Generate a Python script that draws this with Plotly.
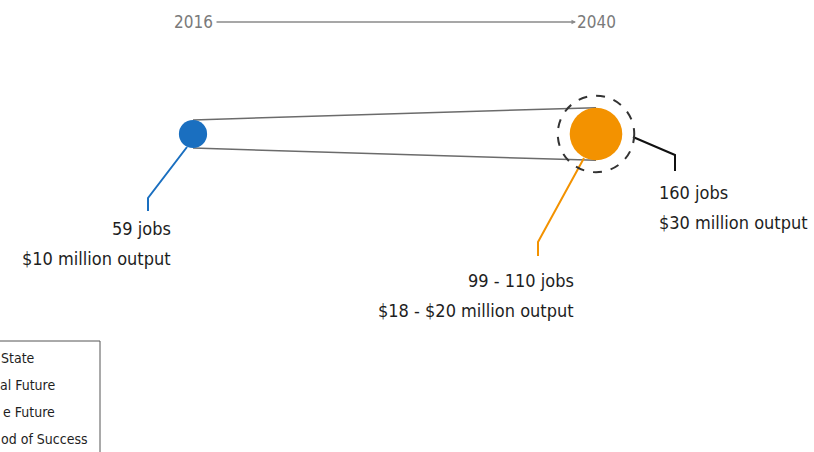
import plotly.graph_objects as go

# ---- data ----
years = [2016, 2040]
jobs_low = [59, 99]
jobs_high = [59, 110]
output_low = [10, 18]
output_high = [10, 20]
potential_year = 2040
potential_jobs = 160
potential_output = 30
series_colors = ["#1a6fc0", "#f39200"]
legend_labels = ["State", "al Future", "e Future", "od of Success"]

# ---- layout helpers (pixel frame) ----
W, H = 814, 452
X0_PX, X1_PX = 193, 596          # pixel positions of the two years
ppy = (X1_PX - X0_PX) / (years[1] - years[0])
x_range = [years[0] - X0_PX / ppy, years[0] + (W - X0_PX) / ppy]
CY = 134                          # vertical centre line of the bubbles (px from top)
K = 0.478                         # bubble diameter (px) per job

def dx(p):
    return p / ppy

FONT = "DejaVu Sans Condensed, Liberation Sans Narrow, sans-serif"
TXT = "#1e1e1e"

fig = go.Figure()

diam = [j * K for j in jobs_high]
rad = [d / 2 for d in diam]

# tangent connector lines
fig.add_trace(go.Scatter(x=years, y=[CY - rad[0], CY - rad[1]], mode="lines",
                         line=dict(color="#6b6b6b", width=1.5), hoverinfo="skip", showlegend=False))
fig.add_trace(go.Scatter(x=years, y=[CY + rad[0], CY + rad[1]], mode="lines",
                         line=dict(color="#6b6b6b", width=1.5), hoverinfo="skip", showlegend=False))

# bubbles
fig.add_trace(go.Scatter(x=years, y=[CY, CY], mode="markers",
                         marker=dict(size=diam, color=series_colors, line=dict(width=0), opacity=1),
                         hoverinfo="skip", showlegend=False))

# dashed potential circle
pr = potential_jobs * K / 2
fig.add_shape(type="circle", xref="x", yref="y",
              x0=potential_year - dx(pr), x1=potential_year + dx(pr), y0=CY - pr, y1=CY + pr,
              line=dict(color="#333333", width=2, dash="dash"))

# leader lines
def leader(pts, color):
    fig.add_trace(go.Scatter(x=[p[0] for p in pts], y=[p[1] for p in pts], mode="lines",
                             line=dict(color=color, width=2), hoverinfo="skip", showlegend=False))

bx = years[0]
leader([(bx - dx(6), CY + 13), (bx - dx(45), CY + 64), (bx - dx(45), CY + 77)], series_colors[0])
ox = years[1]
leader([(ox - dx(12), CY + 24), (ox - dx(58), CY + 108), (ox - dx(58), CY + 122)], series_colors[1])
leader([(potential_year + dx(37), CY + 3), (potential_year + dx(79), CY + 21), (potential_year + dx(79), CY + 37)], "#111111")

# labels
def label(x, y, text, anchor):
    fig.add_annotation(x=x, y=y, xref="x", yref="y", text=text, showarrow=False,
                       xanchor=anchor, yanchor="middle", align=anchor,
                       font=dict(family=FONT, size=18, color=TXT))

label(bx - dx(20), CY + 94, f"{jobs_low[0]} jobs", "right")
label(bx - dx(20), CY + 124, f"${output_low[0]} million output", "right")
label(ox - dx(20), CY + 146, f"{jobs_low[1]} - {jobs_high[1]} jobs", "right")
label(ox - dx(20), CY + 176, f"${output_low[1]} - ${output_high[1]} million output", "right")
label(potential_year + dx(61), CY + 58, f"{potential_jobs} jobs", "left")
label(potential_year + dx(61), CY + 88, f"${potential_output} million output", "left")

# timeline
for yr in years:
    fig.add_annotation(x=yr, y=22, xref="x", yref="y", text=str(yr), showarrow=False,
                       xanchor="center", yanchor="middle",
                       font=dict(family=FONT, size=17, color="#7a7a7a"))
fig.add_annotation(x=years[1] - dx(20), y=22, ax=years[0] + dx(22), ay=22,
                   xref="x", yref="y", axref="x", ayref="y", text="", showarrow=True,
                   arrowhead=2, arrowsize=0.6, arrowwidth=1.5, arrowcolor="#8a8a8a")

# legend box (cropped at left edge)
fig.add_shape(type="rect", xref="paper", yref="paper", x0=-0.05, x1=100 / W, y0=-0.05, y1=1 - 341 / H,
              line=dict(color="#555555", width=1))
for i, t in enumerate(legend_labels):
    fig.add_annotation(x=[37, 57, 57, 90][i] / W, y=1 - (358 + 27 * i) / H, xref="paper", yref="paper",
                       text=t, showarrow=False, xanchor="right", yanchor="middle",
                       font=dict(family=FONT, size=14, color=TXT))

fig.update_layout(
    width=W, height=H, margin=dict(l=0, r=0, t=0, b=0),
    paper_bgcolor="white", plot_bgcolor="white",
    xaxis=dict(range=x_range, visible=False, fixedrange=True),
    yaxis=dict(range=[H, 0], visible=False, fixedrange=True),
    showlegend=False,
)

fig.write_html("out.html", config={"displayModeBar": False},
               post_script="document.body.style.margin='0';document.body.style.overflow='hidden';")
